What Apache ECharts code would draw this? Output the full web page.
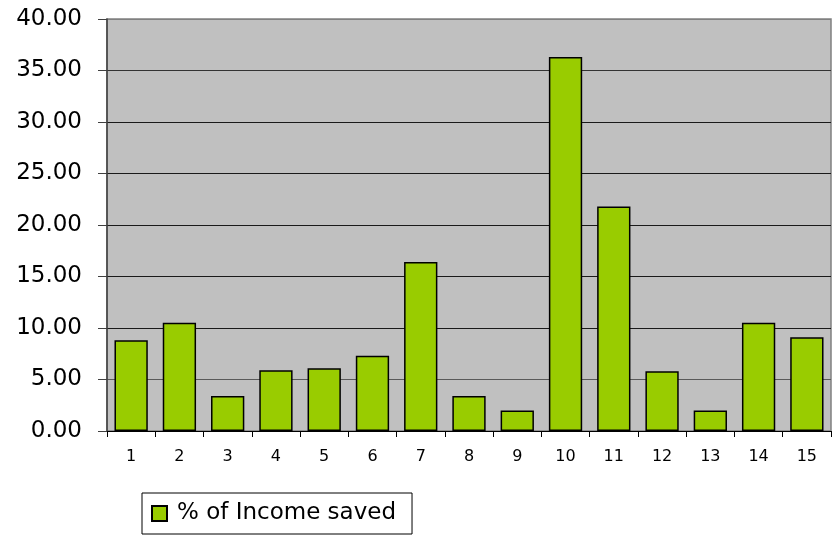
<!DOCTYPE html>
<html>
<head>
<meta charset="utf-8">
<script src="https://cdn.jsdelivr.net/npm/echarts@6/dist/echarts.min.js"></script>
<style>html,body{margin:0;padding:0;background:#fff;}#c{width:837px;height:541px;}</style>
</head>
<body>
<div id="c"></div>
<script>
const categories = ['1','2','3','4','5','6','7','8','9','10','11','12','13','14','15'];
const savedPct = [8.8, 10.5, 3.4, 5.9, 6.1, 7.3, 16.4, 3.4, 2.0, 36.3, 21.8, 5.8, 2.0, 10.5, 9.1];
const seriesName = '% of Income saved';
const FONT = 'DejaVu Sans, Verdana, sans-serif';

const chart = echarts.init(document.getElementById('c'));
chart.setOption({
  animation: false,
  textStyle: { fontFamily: FONT },
  grid: { left: 107, right: 6, top: 19, bottom: 110, show: true, backgroundColor: '#c0c0c0', borderColor: '#808080', borderWidth: 1.5 },
  legend: {
    data: [seriesName],
    left: 142, top: 493,
    orient: 'horizontal',
    borderColor: '#000', borderWidth: 1,
    padding: [9, 16, 9, 9],
    itemWidth: 15, itemHeight: 15, itemGap: 6,
    icon: 'rect',
    textStyle: { fontSize: 23, color: '#000', fontFamily: FONT, padding: [0, 0, 0, 5] }
  },
  xAxis: {
    type: 'category',
    data: categories,
    axisLine: { lineStyle: { color: '#000', width: 1 } },
    axisTick: { show: true, length: 6, lineStyle: { color: '#000' } },
    axisLabel: { fontSize: 16, color: '#000', margin: 18, fontFamily: FONT }
  },
  yAxis: {
    type: 'value',
    min: 0, max: 40, interval: 5,
    axisLine: { show: true, lineStyle: { color: '#404040', width: 1.5 } },
    axisTick: { show: true, length: 9, lineStyle: { color: '#404040' } },
    axisLabel: { fontSize: 23, color: '#000', margin: 25, fontFamily: FONT, formatter: v => v.toFixed(2) },
    splitLine: { show: true, lineStyle: { color: ['#1a1a1a', '#5a5a5a', '#1a1a1a', '#1a1a1a', '#1a1a1a', '#1a1a1a', '#1a1a1a', '#333333', '#808080'], width: 1.2 } }
  },
  series: [{
    name: seriesName,
    type: 'bar',
    data: savedPct,
    barCategoryGap: '31%',
    itemStyle: { color: '#99cc00', borderColor: '#000', borderWidth: 1.5 }
  }]
});
</script>
</body>
</html>
